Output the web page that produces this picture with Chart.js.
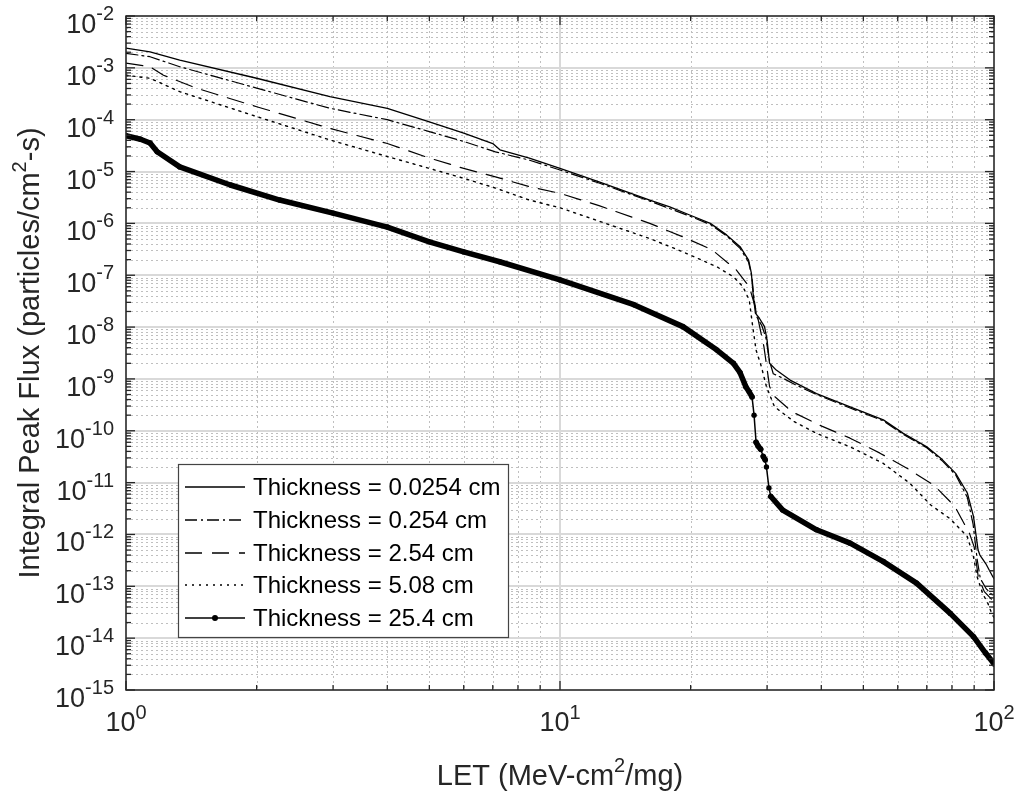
<!DOCTYPE html>
<html><head><meta charset="utf-8">
<script src="https://cdn.jsdelivr.net/npm/chart.js@4.4.1/dist/chart.umd.min.js"></script>
<style>html,body{margin:0;padding:0;background:#fff;}#wrap{width:1021px;height:799px;position:relative;}</style>
</head><body><div id="wrap"><canvas id="c"></canvas></div>
<script>
// ---------- data ----------
const SERIES_NAMES = ['Thickness = 0.0254 cm','Thickness = 0.254 cm','Thickness = 2.54 cm','Thickness = 5.08 cm','Thickness = 25.4 cm'];

const LET_A  = [1.00,1.136,1.33,2.0,2.95,4.0,5.0,6.0,7.0,7.27,8.5,10,12.3,16.1,17.9,19.9,22.2,24.2,26.0,27.2,27.6,27.85,28.2,28.8,29.6,30.0,30.4,31.5,33.9,39.0,46.6,55.6,61.8,70.0,76.1,81.6,86.8,89.7,91.9,92.8,95.7,99.3,100];
const FLUX_A = [2.40e-3,2.04e-3,1.41e-3,6.3e-4,2.78e-4,1.66e-4,9.1e-5,5.5e-5,3.47e-5,2.63e-5,1.82e-5,1.15e-5,6.3e-6,2.82e-6,2.09e-6,1.45e-6,1.0e-6,6.0e-7,3.55e-7,1.95e-7,1.10e-7,4.5e-8,1.86e-8,1.48e-8,1.02e-8,5.6e-9,2.0e-9,1.48e-9,9.5e-10,5.2e-10,2.9e-10,1.62e-10,8.9e-11,4.9e-11,2.75e-11,1.51e-11,6.3e-12,2.2e-12,5.0e-13,4.0e-13,2.75e-13,1.55e-13,1.41e-13];

const LET_B  = [1.00,1.136,1.33,2.0,2.95,4.0,5.0,6.0,7.1,8.5,10,12.3,16.1,19.9,22.2,24.2,26.0,27.2,27.7,28.0,28.4,29.2,29.8,30.4,31.0,32.5,35,39,46.6,55.6,61.8,70,76.1,81.6,86.8,89.5,91.5,93,96,100];
const FLUX_B = [1.91e-3,1.64e-3,1.05e-3,4.07e-4,1.66e-4,1.0e-4,5.9e-5,3.8e-5,2.4e-5,1.66e-5,1.07e-5,6.0e-6,2.69e-6,1.38e-6,9.5e-7,5.75e-7,3.3e-7,1.78e-7,8.9e-8,3.5e-8,1.58e-8,1.05e-8,6.3e-9,2.2e-9,1.26e-9,1.05e-9,7.6e-10,5.0e-10,2.75e-10,1.55e-10,8.5e-11,4.7e-11,2.6e-11,1.41e-11,5.2e-12,1.58e-12,3.2e-13,1.41e-13,8.9e-14,6.3e-14];

const LET_C  = [1.00,1.136,1.22,1.45,2.0,2.95,4.0,5.0,6.0,7.1,8.5,10,12.3,16.1,19.2,22.4,25.5,27.3,28.3,29.5,30.4,31.2,34.2,40.1,46.6,54.6,63.0,72.7,81.2,87.8,90.0,92.0,95,100];
const FLUX_C = [1.23e-3,1.05e-3,7.2e-4,4.07e-4,1.78e-4,6.8e-5,3.47e-5,1.82e-5,1.15e-5,7.9e-6,5.1e-6,3.8e-6,2.2e-6,1.0e-6,5.5e-7,3.1e-7,1.26e-7,6.0e-8,2.14e-8,4.2e-9,7.1e-10,4.6e-10,2.34e-10,1.23e-10,7.2e-11,3.7e-11,1.9e-11,8.9e-12,3.5e-12,1.05e-12,5.75e-13,1.51e-13,7.9e-14,5.0e-14];

const LET_D  = [1.00,1.136,1.33,2.0,2.95,4.0,5.0,6.0,7.1,8.5,10,16.1,19.2,23.0,25.1,26.4,27.3,27.8,28.3,29.1,29.9,31.2,34.6,39.0,46.6,55.6,63.9,71.5,79.3,86.8,89.7,91.4,94.2,96.8,98.8,100];
const FLUX_D = [7.2e-4,6.3e-4,3.47e-4,1.15e-4,4.07e-5,1.95e-5,1.15e-5,7.4e-6,4.8e-6,2.82e-6,2.0e-6,5.1e-7,2.82e-7,1.45e-7,9.3e-8,6.0e-8,3.3e-8,1.02e-8,3.6e-9,1.74e-9,7.1e-10,2.9e-10,1.51e-10,8.9e-11,4.9e-11,2.34e-11,9.8e-12,3.7e-12,2.0e-12,9.1e-13,3.7e-13,1.55e-13,7.2e-14,4.7e-14,3.0e-14,2.5e-14];

const LET_E  = [1.00,1.08,1.136,1.18,1.33,1.74,2.26,3.0,4.0,5.0,6.0,7.26,10,14.8,19.2,23.0,25.1,26.0,26.8,27.3,27.7,28.0,28.3,28.6,29.0,29.4,29.7,29.9,30.3,30.6,32.6,39.0,46.6,55.6,66.3,79.3,89.7,95.7,100];
const FLUX_E = [4.9e-5,4.2e-5,3.55e-5,2.4e-5,1.23e-5,5.5e-6,2.82e-6,1.58e-6,8.5e-7,4.4e-7,2.82e-7,1.82e-7,8.1e-8,2.7e-8,1.02e-8,3.6e-9,2.0e-9,1.32e-9,7.1e-10,5.6e-10,4.5e-10,2.0e-10,6.0e-11,5.1e-11,4.4e-11,3.2e-11,2.75e-11,2.0e-11,7.9e-12,5.4e-12,2.95e-12,1.23e-12,6.8e-13,3.0e-13,1.15e-13,3.0e-14,1.07e-14,5.1e-15,3.2e-15];

const X_TICKS = [1,10,100];
const X_TICK_EXP = ['0','1','2'];
const Y_TICKS = [1e-2,1e-3,1e-4,1e-5,1e-6,1e-7,1e-8,1e-9,1e-10,1e-11,1e-12,1e-13,1e-14,1e-15];
const Y_TICK_EXP = ['-2','-3','-4','-5','-6','-7','-8','-9','-10','-11','-12','-13','-14','-15'];
const X_TITLE = [['LET (MeV-cm',false],['2',true],['/mg)',false]];
const Y_TITLE = [['Integral Peak Flux (particles/cm',false],['2',true],['-s)',false]];

// ---------- drawing helpers ----------
const FONT = '"Liberation Sans", Arial, Helvetica, sans-serif';
const TXT = '#262626';
function richWidth(ctx, parts, base, sup){
  let w=0; for(const [t,s] of parts){ctx.font=(s?sup:base)+'px '+FONT; w+=ctx.measureText(t).width;} return w;
}
function drawRich(ctx, parts, x, y, align, base, sup, rise){
  const w = richWidth(ctx, parts, base, sup);
  let cx = align==='center' ? x-w/2 : (align==='right' ? x-w : x);
  ctx.textAlign='left'; ctx.textBaseline='alphabetic';
  for(const [t,s] of parts){
    ctx.font=(s?sup:base)+'px '+FONT;
    ctx.fillText(t, cx, s ? y-rise : y);
    cx += ctx.measureText(t).width;
  }
}
function minorVals(lo, hi){
  const out=[];
  for(let d=lo; d<hi; d*=10){ for(let k=2;k<=9;k++) out.push(d*k); }
  return out;
}

const gridPlugin = {
  id:'matlabGrid',
  beforeDatasetsDraw(chart){
    const {ctx, chartArea:a, scales:{x,y}} = chart;
    ctx.save();
    ctx.strokeStyle='#bfbfbf'; ctx.lineWidth=1; ctx.setLineDash([2,3]);
    for(const v of minorVals(1,100)){ const px=Math.round(x.getPixelForValue(v))+0.5; ctx.beginPath(); ctx.moveTo(px,a.top); ctx.lineTo(px,a.bottom); ctx.stroke(); }
    for(const v of minorVals(1e-15,1e-2)){ const py=Math.round(y.getPixelForValue(v))+0.5; ctx.beginPath(); ctx.moveTo(a.left,py); ctx.lineTo(a.right,py); ctx.stroke(); }
    ctx.setLineDash([]); ctx.strokeStyle='#d9d9d9'; ctx.lineWidth=2;
    for(const v of X_TICKS){ const px=Math.round(x.getPixelForValue(v)); ctx.beginPath(); ctx.moveTo(px,a.top); ctx.lineTo(px,a.bottom); ctx.stroke(); }
    for(const v of Y_TICKS){ const py=Math.round(y.getPixelForValue(v)); ctx.beginPath(); ctx.moveTo(a.left,py); ctx.lineTo(a.right,py); ctx.stroke(); }
    ctx.restore();
  },
  afterDatasetsDraw(chart){
    const {ctx, chartArea:a, scales:{x,y}} = chart;
    ctx.save();
    ctx.strokeStyle=TXT; ctx.lineWidth=1.3; ctx.setLineDash([]);
    const tick=(x1,y1,x2,y2)=>{ctx.beginPath();ctx.moveTo(x1,y1);ctx.lineTo(x2,y2);ctx.stroke();};
    for(const v of X_TICKS){ const px=x.getPixelForValue(v); tick(px,a.bottom,px,a.bottom-9); tick(px,a.top,px,a.top+9); }
    for(const v of minorVals(1,100)){ const px=x.getPixelForValue(v); tick(px,a.bottom,px,a.bottom-5); tick(px,a.top,px,a.top+5); }
    for(const v of Y_TICKS){ const py=y.getPixelForValue(v); tick(a.left,py,a.left+9,py); tick(a.right,py,a.right-9,py); }
    for(const v of minorVals(1e-15,1e-2)){ const py=y.getPixelForValue(v); tick(a.left,py,a.left+5,py); tick(a.right,py,a.right-5,py); }
    ctx.lineWidth=1.5;
    ctx.strokeRect(a.left, a.top, a.right-a.left, a.bottom-a.top);
    ctx.fillStyle=TXT;
    X_TICKS.forEach((v,i)=>{ drawRich(ctx, [['10',false],[X_TICK_EXP[i],true]], x.getPixelForValue(v), a.bottom+41, 'center', 27, 20, 12); });
    Y_TICKS.forEach((v,i)=>{ drawRich(ctx, [['10',false],[Y_TICK_EXP[i],true]], a.left-12, y.getPixelForValue(v)+17, 'right', 27, 20, 13); });
    drawRich(ctx, X_TITLE, (a.left+a.right)/2, 785, 'center', 29, 20, 13);
    ctx.save();
    ctx.translate(39, (a.top+a.bottom)/2);
    ctx.rotate(-Math.PI/2);
    drawRich(ctx, Y_TITLE, 0, 0, 'center', 29, 20, 13);
    ctx.restore();
    // legend
    const L={x1:178,y1:464,x2:508,y2:637};
    ctx.fillStyle='#fff'; ctx.fillRect(L.x1,L.y1,L.x2-L.x1,L.y2-L.y1);
    ctx.strokeStyle='#444'; ctx.lineWidth=1.2; ctx.strokeRect(L.x1+0.5,L.y1+0.5,L.x2-L.x1,L.y2-L.y1);
    const rows=[487,520,553,585,618];
    chart.data.datasets.forEach((ds,i)=>{
      const ry=rows[i];
      ctx.strokeStyle='#000'; ctx.lineWidth=1.3; ctx.setLineDash(ds.borderDash||[]);
      ctx.beginPath(); ctx.moveTo(185,ry); ctx.lineTo(245,ry); ctx.stroke();
      ctx.setLineDash([]);
      if(ds.pointRadius){ ctx.fillStyle='#000'; ctx.beginPath(); ctx.arc(215,ry,3,0,Math.PI*2); ctx.fill(); }
      ctx.fillStyle='#000'; ctx.font='24px '+FONT; ctx.textAlign='left'; ctx.textBaseline='middle';
      ctx.fillText(ds.label, 253, ry+1);
    });
    ctx.restore();
  }
};

const mk = (xs, ys) => xs.map((v,i)=>({x:v, y:ys[i]}));
const steep = c => { const dx=Math.abs(c.p1.x-c.p0.x), dy=Math.abs(c.p1.y-c.p0.y); return dy > 2.5*dx; };

new Chart(document.getElementById('c'), {
  type:'line',
  data:{datasets:[
    {label:SERIES_NAMES[0], data:mk(LET_A,FLUX_A), borderColor:'#000', borderWidth:1.3, pointRadius:0},
    {label:SERIES_NAMES[1], data:mk(LET_B,FLUX_B), borderColor:'#000', borderWidth:1.2, borderDash:[12,4,2,4], pointRadius:0},
    {label:SERIES_NAMES[2], data:mk(LET_C,FLUX_C), borderColor:'#000', borderWidth:1.2, borderDash:[17,10], pointRadius:0},
    {label:SERIES_NAMES[3], data:mk(LET_D,FLUX_D), borderColor:'#000', borderWidth:1.4, borderDash:[2,5], pointRadius:0},
    {label:SERIES_NAMES[4], data:mk(LET_E,FLUX_E), borderColor:'#000', borderWidth:5.5, pointRadius:2.7, pointBackgroundColor:'#000', pointBorderWidth:0,
      segment:{borderWidth:c=>steep(c)?1.5:5.5}}
  ]},
  options:{
    responsive:true, maintainAspectRatio:false, animation:false,
    layout:{padding:{left:0,right:27,top:16,bottom:0}},
    plugins:{legend:{display:false}, tooltip:{enabled:false}},
    elements:{line:{tension:0, borderJoinStyle:'round', borderCapStyle:'round'}},
    scales:{
      x:{type:'logarithmic', min:1, max:100, ticks:{display:false}, grid:{display:false}, border:{display:false}, afterFit(s){s.height=109;}},
      y:{type:'logarithmic', min:1e-15, max:1e-2, ticks:{display:false}, grid:{display:false}, border:{display:false}, afterFit(s){s.width=126;}}
    }
  },
  plugins:[gridPlugin]
});
</script></body></html>
